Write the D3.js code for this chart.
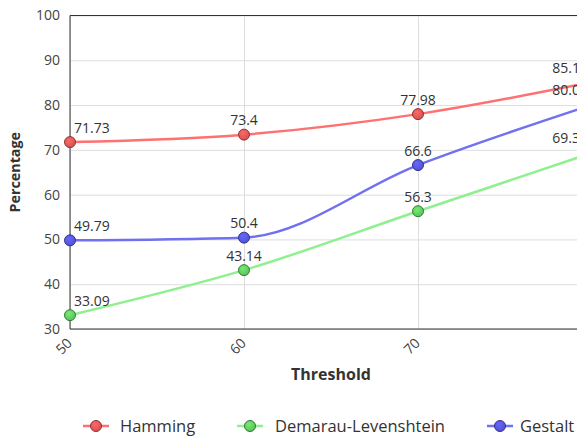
<!DOCTYPE html>
<meta charset="utf-8">
<head>
    <title>Threshold vs Percentage</title>
    <script type="text/javascript" src="https://cdn.jsdelivr.net/npm/d3@7"></script>
    <style>
        body { margin: 0; overflow: hidden; font-family: "Open Sans", sans-serif; }
        text { fill: #333; }
        .grid line { stroke: #ddd; }
        .grid path { display: none; }
    </style>
</head>
<body>
<script>
    // data
    var thresholds = [50, 60, 70, 80]
    var seriesNames = ["Hamming", "Demarau-Levenshtein", "Gestalt"]
    var hamming = [71.73, 73.4, 77.98, 85.14]
    var demarau = [33.09, 43.14, 56.3, 69.34]
    var gestalt = [49.79, 50.4, 66.6, 80.05]
    var yTicks = [30, 40, 50, 60, 70, 80, 90, 100]

    var lineColors = ["#ff7070", "#8ef08e", "#7070f0"]
    var dotColors = ["#d65252", "#5cc05c", "#5252d0"]
    var dotStroke = ["#8a3434", "#347a34", "#34348a"]

    var margin = {top: 15.5, left: 70}
    var plotW = 522, plotH = 313.5

    var svg = d3.select('body').append('svg')
        .attr('width', 640)
        .attr('height', 436)

    var x = d3.scaleLinear().domain([50, 80]).range([margin.left, margin.left + plotW])
    var y = d3.scaleLinear().domain([30, 100]).range([margin.top + plotH, margin.top])

    // gradients for markers
    var defs = svg.append('defs')
    dotColors.forEach(function(c, i){
        var g = defs.append('radialGradient').attr('id', 'grad' + i)
            .attr('cx', '40%').attr('cy', '35%').attr('r', '65%')
        g.append('stop').attr('offset', '0%').attr('stop-color', d3.color(c).brighter(0.6))
        g.append('stop').attr('offset', '100%').attr('stop-color', c)
    })

    // grid
    svg.append('g').attr('class', 'grid')
        .attr('transform', 'translate(0,' + (margin.top + plotH) + ')')
        .call(d3.axisBottom(x).tickValues(thresholds).tickSize(-plotH).tickFormat(''))
    svg.append('g').attr('class', 'grid')
        .attr('transform', 'translate(' + margin.left + ',0)')
        .call(d3.axisLeft(y).tickValues(yTicks).tickSize(-plotW).tickFormat(''))

    // frame lines
    svg.append('line').attr('x1', x(50)).attr('x2', x(80) + 40)
        .attr('y1', y(100)).attr('y2', y(100)).attr('stroke', '#333')
    svg.append('line').attr('x1', x(50)).attr('x2', x(80) + 40)
        .attr('y1', y(30)).attr('y2', y(30)).attr('stroke', '#333')
    svg.append('line').attr('x1', x(50)).attr('x2', x(50))
        .attr('y1', y(100)).attr('y2', y(30)).attr('stroke', '#333')

    // axis labels
    var yAxis = svg.append('g')
        .attr('transform', 'translate(' + margin.left + ',0)')
        .call(d3.axisLeft(y).tickValues(yTicks).tickSize(0).tickPadding(10))
    yAxis.select('.domain').remove()
    yAxis.selectAll('text').style('font-size', '14px').style('font-family', 'Open Sans').style('fill', '#444')

    var xAxis = svg.append('g')
        .call(d3.axisBottom(x).tickValues(thresholds).tickSize(0).tickFormat(d3.format('d')))
    xAxis.select('.domain').remove()
    xAxis.selectAll('.tick').attr('transform', null)
    xAxis.selectAll('text')
        .style('font-size', '14px').style('font-family', 'Open Sans').style('fill', '#444')
        .style('text-anchor', 'end')
        .attr('x', 0).attr('y', 0).attr('dy', 0)
        .attr('transform', function(d){ return 'translate(' + (x(d) + 3) + ',344) rotate(-45)' })

    svg.append('text')
        .attr('x', x(65)).attr('y', 380)
        .attr('text-anchor', 'middle')
        .style('font-size', '16px').style('font-weight', 'bold')
        .text('Threshold')
    svg.append('text')
        .attr('transform', 'translate(20,' + y(65) + ') rotate(-90)')
        .attr('text-anchor', 'middle')
        .style('font-size', '14.3px').style('font-weight', 'bold')
        .text('Percentage')

    // series
    var allSeries = [hamming, demarau, gestalt]
    var line = d3.line()
        .x(function(d, i){ return x(thresholds[i]) })
        .y(function(d){ return y(d) })
        .curve(d3.curveMonotoneX)

    allSeries.forEach(function(vals, s){
        svg.append('path').datum(vals)
            .attr('d', line)
            .attr('fill', 'none')
            .attr('stroke', lineColors[s])
            .attr('stroke-width', 2.5)
    })

    allSeries.forEach(function(vals, s){
        var g = svg.append('g')
        g.selectAll('circle').data(vals).enter().append('circle')
            .attr('cx', function(d, i){ return x(thresholds[i]) })
            .attr('cy', function(d){ return y(d) })
            .attr('r', 5.5)
            .attr('fill', 'url(#grad' + s + ')')
            .attr('stroke', dotStroke[s])
            .attr('stroke-width', 1)
        g.selectAll('text').data(vals).enter().append('text')
            .attr('x', function(d, i){
                if (i == 0) return x(thresholds[i]) + 4
                if (i == vals.length - 1) return x(thresholds[i]) - 4
                return x(thresholds[i])
            })
            .attr('y', function(d){ return y(d) - 9.5 })
            .attr('text-anchor', function(d, i){
                if (i == 0) return 'start'
                if (i == vals.length - 1) return 'end'
                return 'middle'
            })
            .style('font-size', '14px')
            .text(function(d){ return d })
    })

    // legend
    var legendX = [96, 250, 500]
    var legendTextX = [120, 275, 520]
    var legend = svg.append('g')
    seriesNames.forEach(function(name, s){
        var lg = legend.append('g').attr('transform', 'translate(0,426)')
        lg.append('line').attr('x1', legendX[s] - 13).attr('x2', legendX[s] + 13)
            .attr('stroke', lineColors[s]).attr('stroke-width', 2.5)
        lg.append('circle').attr('cx', legendX[s]).attr('r', 5.5)
            .attr('fill', 'url(#grad' + s + ')')
            .attr('stroke', dotStroke[s])
        lg.append('text').attr('x', legendTextX[s]).attr('dy', '0.35em')
            .style('font-size', '16.5px')
            .text(name)
    })
</script>
</body>
</html>
